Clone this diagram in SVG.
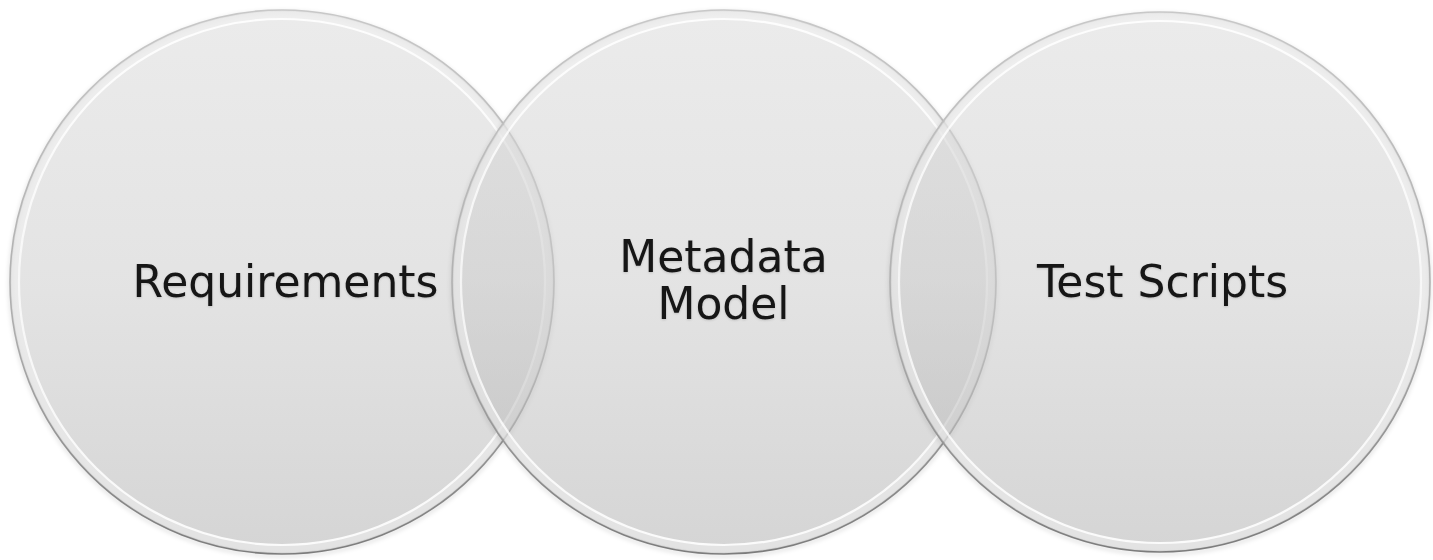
<svg xmlns="http://www.w3.org/2000/svg" width="1433" height="560" viewBox="0 0 1433 560">
  <defs>
    <linearGradient id="fillGrad" x1="0" y1="0" x2="0" y2="1">
      <stop offset="0" stop-color="#dbdbdb"/>
      <stop offset="0.5" stop-color="#cdcdcd"/>
      <stop offset="1" stop-color="#b2b2b2"/>
    </linearGradient>
    <linearGradient id="rimGrad" x1="0" y1="0" x2="0" y2="1">
      <stop offset="0" stop-color="#c8c8c8"/>
      <stop offset="0.6" stop-color="#acacac"/>
      <stop offset="1" stop-color="#7c7c7c"/>
    </linearGradient>
    <linearGradient id="hlGrad" x1="0" y1="0" x2="0" y2="1">
      <stop offset="0" stop-color="#ffffff" stop-opacity="0.9"/>
      <stop offset="0.5" stop-color="#ffffff" stop-opacity="0.7"/>
      <stop offset="1" stop-color="#ffffff" stop-opacity="0.9"/>
    </linearGradient>
    <filter id="shadow" x="-10%" y="-10%" width="120%" height="120%">
      <feGaussianBlur stdDeviation="2"/>
    </filter>
    <filter id="textGlow" x="-5%" y="-20%" width="110%" height="140%">
      <feGaussianBlur in="SourceAlpha" stdDeviation="1.2" result="b"/>
      <feOffset in="b" dx="0" dy="1" result="o"/>
      <feFlood flood-color="#000000" flood-opacity="0.15"/>
      <feComposite in2="o" operator="in" result="s"/>
      <feMerge><feMergeNode in="s"/><feMergeNode in="SourceGraphic"/></feMerge>
    </filter>
  </defs>
  <style>
    .shadow { fill: none; stroke: #000000; stroke-width: 3; stroke-opacity: 0.12; filter: url(#shadow); }
    .disc { fill: url(#fillGrad); fill-opacity: 0.55; }
    .band { fill: none; stroke: #f4f4f4; stroke-opacity: 0.45; stroke-width: 7; }
    .hl { fill: none; stroke: url(#hlGrad); stroke-width: 2.2; }
    .rim { fill: none; stroke: url(#rimGrad); stroke-width: 1.6; }
    .label { font-family: "DejaVu Sans", Verdana, sans-serif; font-size: 44px; fill: #141414; text-anchor: middle; filter: url(#textGlow); }
  </style>
  <rect width="1433" height="560" fill="#ffffff"/>
  <g id="connectors"></g>
  <g id="node-requirements">
    <circle class="shadow" cx="282" cy="284" r="272"/>
    <circle class="disc" cx="282" cy="282" r="272"/>
    <circle class="band" cx="282" cy="282" r="267"/>
    <circle class="hl" cx="282" cy="282" r="263"/>
    <circle class="rim" cx="282" cy="282" r="272"/>
    <text class="label" x="285.5" y="297">Requirements</text>
  </g>
  <g id="node-metadata-model">
    <circle class="shadow" cx="724" cy="284" r="272"/>
    <circle class="disc" cx="724" cy="282" r="272"/>
    <circle class="band" cx="724" cy="282" r="267"/>
    <circle class="hl" cx="724" cy="282" r="263"/>
    <circle class="rim" cx="724" cy="282" r="272"/>
    <text class="label" x="723.5" y="272">Metadata</text>
    <text class="label" x="723.5" y="319">Model</text>
  </g>
  <g id="node-test-scripts">
    <circle class="shadow" cx="1160" cy="284" r="270"/>
    <circle class="disc" cx="1160" cy="282" r="270"/>
    <circle class="band" cx="1160" cy="282" r="265"/>
    <circle class="hl" cx="1160" cy="282" r="261"/>
    <circle class="rim" cx="1160" cy="282" r="270"/>
    <text class="label" x="1162.5" y="297">Test Scripts</text>
  </g>
</svg>
